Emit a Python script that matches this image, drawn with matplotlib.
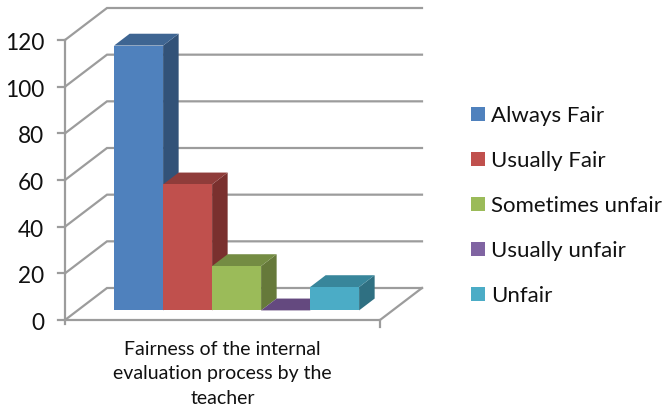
#!/usr/bin/env python3
import matplotlib
matplotlib.use('Agg')
import matplotlib.pyplot as plt
from matplotlib.patches import Polygon, Rectangle

plt.rcParams['font.family'] = ['Lato', 'DejaVu Sans']

# data
categories = ['Always Fair', 'Usually Fair', 'Sometimes unfair', 'Usually unfair', 'Unfair']
values = [113.5, 54, 19, 0, 10]
y_ticks = [0, 20, 40, 60, 80, 100, 120]
x_label = 'Fairness of the internal\nevaluation process by the\nteacher'

front_colors = ['#4F81BD', '#C0504D', '#9BBB59', '#8064A2', '#4BACC6']
top_colors = ['#3E6592', '#8F3C3A', '#748C43', '#64497F', '#38869B']
side_colors = ['#325278', '#7A302E', '#66793A', '#503A68', '#2F7082']
grid_color = '#9C9C9C'

W, H = 666, 413
PX_X = 49.0              # pixels per bar slot
PX_Y = 280 / 120.0       # pixels per value unit
X0, Y0 = 65, 320         # pixel of the front corner
DEPTH_X, DEPTH_Y = 42 / PX_X, 32 / PX_Y
FLOOR_W = 315 / PX_X
BAR_START = 36.5 / PX_X


def proj(x, v, d=0.0):
    """oblique projection, d = 0 front of the floor, 1 back wall"""
    return (x + d * DEPTH_X, v + d * DEPTH_Y)


fig = plt.figure(figsize=(W / 100, H / 100), dpi=100)
ax = fig.add_axes([0, 0, 1, 1])
ax.set_xlim(-X0 / PX_X, (W - X0) / PX_X)
ax.set_ylim(-(H - Y0) / PX_Y, Y0 / PX_Y)
ax.axis('off')

# walls and floor
for t in y_ticks:
    back_l = proj(0, t, 1)
    back_r = proj(FLOOR_W, t, 1)
    ax.plot([0, back_l[0], back_r[0]], [t, back_l[1], back_r[1]],
            color=grid_color, lw=1.6, solid_joinstyle='miter', zorder=1)
    ax.plot([-7 / PX_X, 0], [t, t], color=grid_color, lw=1.6, zorder=1)
    ax.text(-21 / PX_X, t - 1.5, str(t), ha='right', va='center', fontsize=16.3, color='#111111')

ax.plot([0, 0], [-4 / PX_Y, 120], color=grid_color, lw=1.6, zorder=1)
floor_back = proj(FLOOR_W, 0, 1)
ax.plot([0, FLOOR_W, floor_back[0]], [0, 0, floor_back[1]], color=grid_color, lw=1.6, zorder=1)
ax.plot([FLOOR_W, FLOOR_W], [-7 / PX_Y, 0], color=grid_color, lw=1.6, zorder=1)

# bars
d0, d1 = 0.3, 0.67
for i, val in enumerate(values):
    xl = BAR_START + i
    xr = xl + 1
    p_fl = proj(xl, 0, d0)
    p_fr = proj(xr, 0, d0)
    p_tl = proj(xl, val, d0)
    p_tr = proj(xr, val, d0)
    p_bl = proj(xl, val, d1)
    p_br = proj(xr, val, d1)
    p_sb = proj(xr, 0, d1)
    z = 2 + i
    ax.add_patch(Polygon([p_fr, p_tr, p_br, p_sb], fc=side_colors[i], ec='none', zorder=z))
    ax.add_patch(Polygon([p_tl, p_tr, p_br, p_bl], fc=top_colors[i], ec='none', zorder=z))
    ax.add_patch(Polygon([p_fl, p_fr, p_tr, p_tl], fc=front_colors[i], ec='none', zorder=z))

ax.text(157.5 / PX_X, -(374 - Y0) / PX_Y, x_label, ha='center', va='center',
        fontsize=14, color='#111111', linespacing=1.53)

# legend
for i, name in enumerate(categories):
    yc = 114 + 45 * i
    fig.add_artist(Rectangle((471 / W, 1 - (yc + 7) / H), 14 / W, 14 / H,
                             fc=front_colors[i], ec='none', transform=fig.transFigure))
    fig.text(491 / W, 1 - (yc + 2) / H, name, ha='left', va='center', fontsize=16, color='#111111')

fig.savefig('out.png', dpi=100)
